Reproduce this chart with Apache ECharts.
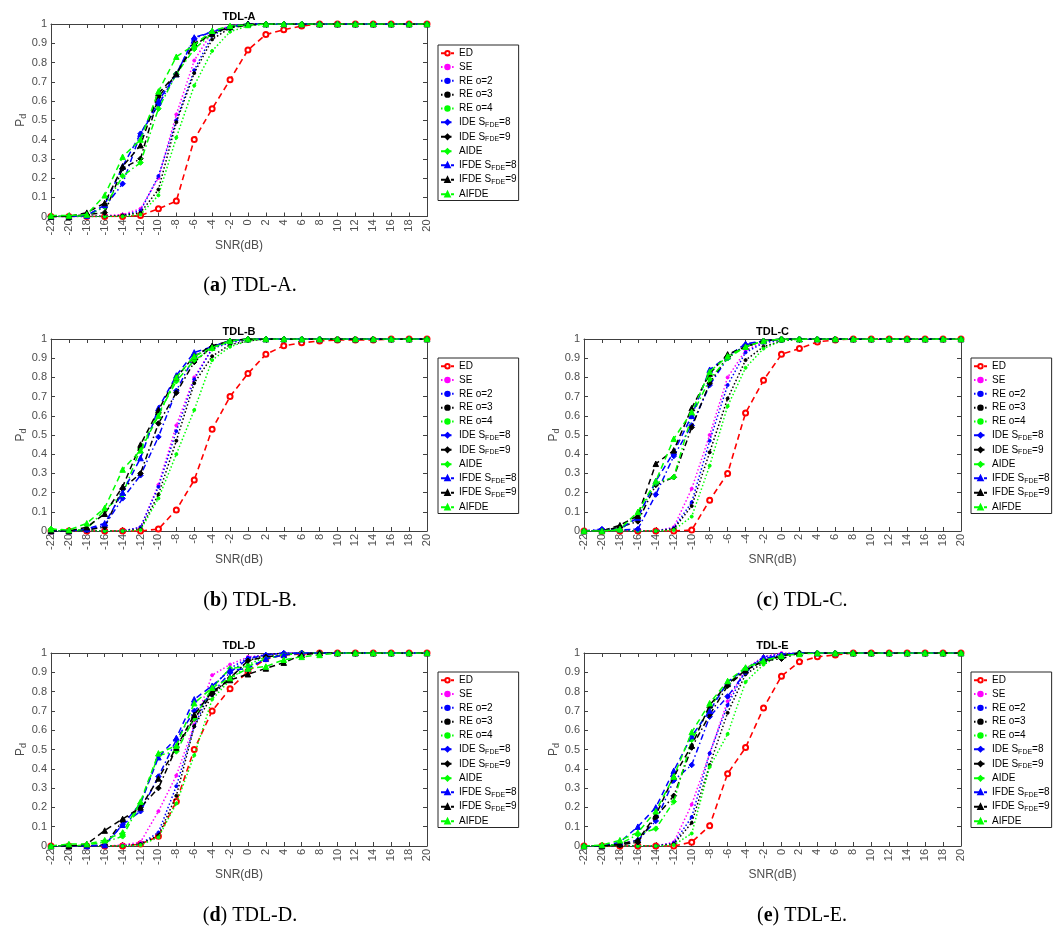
<!DOCTYPE html>
<html>
<head>
<meta charset="utf-8">
<script src="https://cdn.jsdelivr.net/npm/echarts@6/dist/echarts.min.js"></script>
<style>
html,body{margin:0;padding:0;background:#fff;}
#chart{width:1058px;height:927px;}
</style>
</head>
<body>
<div id="chart"></div>
<script>
// ---------- data ----------
const snr = [-22,-20,-18,-16,-14,-12,-10,-8,-6,-4,-2,0,2,4,6,8,10,12,14,16,18,20];
const seriesNames = ['ED','SE','RE o=2','RE o=3','RE o=4','IDE S_FDE=8','IDE S_FDE=9','AIDE','IFDE S_FDE=8','IFDE S_FDE=9','AIFDE'];
const panelTitles = ['TDL-A','TDL-B','TDL-C','TDL-D','TDL-E'];
const captionLetters = ['a','b','c','d','e'];
const yTickLabels = ['0','0.1','0.2','0.3','0.4','0.5','0.6','0.7','0.8','0.9','1'];

// TDL-A
const tdlA_ED    = [0,0,0,0,0,0.005,0.04,0.08,0.40,0.56,0.71,0.865,0.945,0.97,0.99,1,1,1,1,1,1,1];
const tdlA_SE    = [0,0,0,0.005,0.01,0.04,0.20,0.53,0.81,0.96,0.99,1,1,1,1,1,1,1,1,1,1,1];
const tdlA_RE2   = [0,0,0,0,0.005,0.03,0.21,0.50,0.76,0.94,0.99,1,1,1,1,1,1,1,1,1,1,1];
const tdlA_RE3   = [0,0,0,0,0.005,0.02,0.14,0.49,0.745,0.92,0.98,1,1,1,1,1,1,1,1,1,1,1];
const tdlA_RE4   = [0,0,0,0,0,0.01,0.11,0.41,0.68,0.86,0.96,0.99,1,1,1,1,1,1,1,1,1,1];
const tdlA_IDE8  = [0,0,0.005,0.05,0.17,0.43,0.58,0.74,0.925,0.96,0.985,1,1,1,1,1,1,1,1,1,1,1];
const tdlA_IDE9  = [0,0,0.01,0.02,0.25,0.30,0.62,0.74,0.89,0.95,0.98,0.995,1,1,1,1,1,1,1,1,1,1];
const tdlA_AIDE  = [0,0,0.005,0.05,0.21,0.28,0.56,0.74,0.87,0.95,0.985,1,1,1,1,1,1,1,1,1,1,1];
const tdlA_IFDE8 = [0,0,0.005,0.06,0.26,0.43,0.60,0.74,0.93,0.96,0.985,1,1,1,1,1,1,1,1,1,1,1];
const tdlA_IFDE9 = [0,0,0.02,0.07,0.26,0.37,0.64,0.74,0.90,0.95,0.985,1,1,1,1,1,1,1,1,1,1,1];
const tdlA_AIFDE = [0.005,0.005,0.01,0.11,0.31,0.40,0.65,0.83,0.89,0.965,0.99,0.995,1,1,1,1,1,1,1,1,1,1];

// TDL-B
const tdlB_ED    = [0,0,0,0,0,0,0.01,0.11,0.265,0.53,0.70,0.82,0.92,0.965,0.98,0.99,0.995,0.995,0.995,1,1,1];
const tdlB_SE    = [0,0,0,0,0,0.02,0.24,0.55,0.80,0.95,0.985,1,1,1,1,1,1,1,1,1,1,1];
const tdlB_RE2   = [0,0,0,0,0,0.02,0.23,0.52,0.79,0.95,0.98,1,1,1,1,1,1,1,1,1,1,1];
const tdlB_RE3   = [0,0,0,0,0,0.01,0.19,0.47,0.77,0.91,0.97,0.99,1,1,1,1,1,1,1,1,1,1];
const tdlB_RE4   = [0,0,0,0,0,0.005,0.17,0.40,0.63,0.89,0.96,0.99,1,1,1,1,1,1,1,1,1,1];
const tdlB_IDE8  = [0,0,0.005,0.03,0.17,0.29,0.49,0.73,0.91,0.96,0.99,1,1,1,1,1,1,1,1,1,1,1];
const tdlB_IDE9  = [0,0,0.005,0.02,0.22,0.30,0.56,0.72,0.88,0.96,0.99,1,1,1,1,1,1,1,1,1,1,1];
const tdlB_AIDE  = [0.01,0,0.01,0.11,0.19,0.43,0.61,0.78,0.89,0.95,0.99,1,1,1,1,1,1,1,1,1,1,1];
const tdlB_IFDE8 = [0,0,0.01,0.04,0.20,0.38,0.64,0.81,0.93,0.96,0.99,1,1,1,1,1,1,1,1,1,1,1];
const tdlB_IFDE9 = [0,0,0.02,0.09,0.23,0.45,0.63,0.80,0.91,0.965,0.99,1,1,1,1,1,1,1,1,1,1,1];
const tdlB_AIFDE = [0.01,0.005,0.04,0.12,0.32,0.42,0.60,0.80,0.91,0.955,0.99,1,1,1,1,1,1,1,1,1,1,1];

// TDL-C
const tdlC_ED    = [0,0,0,0,0,0,0.005,0.16,0.30,0.615,0.785,0.92,0.95,0.985,0.995,1,1,1,1,1,1,1];
const tdlC_SE    = [0,0,0,0,0,0.02,0.22,0.50,0.80,0.94,0.985,1,1,1,1,1,1,1,1,1,1,1];
const tdlC_RE2   = [0,0,0,0,0,0.015,0.15,0.47,0.76,0.93,0.98,0.995,1,1,1,1,1,1,1,1,1,1];
const tdlC_RE3   = [0,0,0,0,0,0.01,0.13,0.41,0.69,0.89,0.96,0.99,1,1,1,1,1,1,1,1,1,1];
const tdlC_RE4   = [0,0,0,0,0,0.005,0.075,0.34,0.65,0.85,0.95,0.99,1,1,1,1,1,1,1,1,1,1];
const tdlC_IDE8  = [0,0.01,0.005,0.01,0.19,0.39,0.55,0.76,0.90,0.97,0.99,1,1,1,1,1,1,1,1,1,1,1];
const tdlC_IDE9  = [0,0,0.02,0.05,0.24,0.28,0.54,0.77,0.91,0.96,0.99,1,1,1,1,1,1,1,1,1,1,1];
const tdlC_AIDE  = [0,0,0.005,0.08,0.25,0.28,0.60,0.79,0.90,0.96,0.99,1,1,1,1,1,1,1,1,1,1,1];
const tdlC_IFDE8 = [0,0.005,0.01,0.07,0.26,0.41,0.60,0.84,0.91,0.975,0.99,1,1,1,1,1,1,1,1,1,1,1];
const tdlC_IFDE9 = [0,0,0.03,0.08,0.35,0.42,0.64,0.82,0.92,0.96,0.99,1,1,1,1,1,1,1,1,1,1,1];
const tdlC_AIFDE = [0,0,0.01,0.10,0.26,0.48,0.62,0.83,0.91,0.96,0.99,1,1,1,1,1,1,1,1,1,1,1];

// TDL-D
const tdlD_ED    = [0,0,0,0,0,0.01,0.05,0.23,0.50,0.70,0.815,0.905,0.97,0.99,0.995,1,1,1,1,1,1,1];
const tdlD_SE    = [0,0,0,0,0.005,0.02,0.18,0.365,0.63,0.885,0.94,0.98,0.99,1,1,1,1,1,1,1,1,1];
const tdlD_RE2   = [0,0,0,0,0,0.01,0.07,0.31,0.62,0.82,0.92,0.975,0.99,1,1,1,1,1,1,1,1,1];
const tdlD_RE3   = [0,0,0,0,0,0.01,0.055,0.26,0.62,0.78,0.87,0.96,0.99,1,1,1,1,1,1,1,1,1];
const tdlD_RE4   = [0,0,0,0,0,0.005,0.045,0.22,0.47,0.76,0.86,0.94,0.98,0.99,1,1,1,1,1,1,1,1];
const tdlD_IDE8  = [0,0,0,0.005,0.11,0.18,0.36,0.55,0.70,0.79,0.90,0.97,0.99,1,1,1,1,1,1,1,1,1];
const tdlD_IDE9  = [0,0,0,0.005,0.13,0.20,0.30,0.51,0.66,0.79,0.87,0.96,0.98,0.99,1,1,1,1,1,1,1,1];
const tdlD_AIDE  = [0,0,0.005,0.02,0.05,0.22,0.47,0.49,0.66,0.82,0.92,0.93,0.97,0.99,1,1,1,1,1,1,1,1];
const tdlD_IFDE8 = [0,0,0,0.005,0.11,0.22,0.46,0.56,0.76,0.83,0.91,0.92,0.97,0.99,1,1,1,1,1,1,1,1];
const tdlD_IFDE9 = [0,0,0.01,0.08,0.14,0.20,0.35,0.51,0.68,0.80,0.86,0.89,0.92,0.95,0.99,1,1,1,1,1,1,1];
const tdlD_AIFDE = [0,0.01,0.01,0.03,0.07,0.23,0.48,0.52,0.74,0.82,0.87,0.92,0.93,0.965,0.98,0.99,1,1,1,1,1,1];

// TDL-E
const tdlE_ED    = [0,0,0,0,0,0,0.02,0.105,0.375,0.51,0.715,0.88,0.955,0.98,0.99,1,1,1,1,1,1,1];
const tdlE_SE    = [0,0,0,0,0,0.02,0.215,0.48,0.75,0.92,0.98,1,1,1,1,1,1,1,1,1,1,1];
const tdlE_RE2   = [0,0,0,0,0,0.015,0.15,0.48,0.73,0.91,0.98,0.995,1,1,1,1,1,1,1,1,1,1];
const tdlE_RE3   = [0,0,0,0,0,0.01,0.12,0.42,0.69,0.89,0.95,0.99,1,1,1,1,1,1,1,1,1,1];
const tdlE_RE4   = [0,0,0,0,0,0.005,0.065,0.41,0.58,0.85,0.94,0.99,1,1,1,1,1,1,1,1,1,1];
const tdlE_IDE8  = [0,0,0.01,0.03,0.13,0.34,0.42,0.67,0.775,0.90,0.97,0.99,1,1,1,1,1,1,1,1,1,1];
const tdlE_IDE9  = [0,0,0.005,0.02,0.15,0.26,0.51,0.68,0.83,0.91,0.96,0.97,1,1,1,1,1,1,1,1,1,1];
const tdlE_AIDE  = [0,0,0.01,0.06,0.09,0.23,0.55,0.72,0.84,0.92,0.96,0.985,1,1,1,1,1,1,1,1,1,1];
const tdlE_IFDE8 = [0,0,0.02,0.10,0.20,0.39,0.57,0.70,0.85,0.92,0.97,0.99,1,1,1,1,1,1,1,1,1,1];
const tdlE_IFDE9 = [0,0,0.01,0.03,0.16,0.36,0.52,0.73,0.84,0.91,0.96,0.985,1,1,1,1,1,1,1,1,1,1];
const tdlE_AIFDE = [0,0.005,0.03,0.07,0.18,0.36,0.59,0.74,0.855,0.925,0.96,0.985,0.995,1,1,1,1,1,1,1,1,1];

const panelData = [
  [tdlA_ED,tdlA_SE,tdlA_RE2,tdlA_RE3,tdlA_RE4,tdlA_IDE8,tdlA_IDE9,tdlA_AIDE,tdlA_IFDE8,tdlA_IFDE9,tdlA_AIFDE],
  [tdlB_ED,tdlB_SE,tdlB_RE2,tdlB_RE3,tdlB_RE4,tdlB_IDE8,tdlB_IDE9,tdlB_AIDE,tdlB_IFDE8,tdlB_IFDE9,tdlB_AIFDE],
  [tdlC_ED,tdlC_SE,tdlC_RE2,tdlC_RE3,tdlC_RE4,tdlC_IDE8,tdlC_IDE9,tdlC_AIDE,tdlC_IFDE8,tdlC_IFDE9,tdlC_AIFDE],
  [tdlD_ED,tdlD_SE,tdlD_RE2,tdlD_RE3,tdlD_RE4,tdlD_IDE8,tdlD_IDE9,tdlD_AIDE,tdlD_IFDE8,tdlD_IFDE9,tdlD_AIFDE],
  [tdlE_ED,tdlE_SE,tdlE_RE2,tdlE_RE3,tdlE_RE4,tdlE_IDE8,tdlE_IDE9,tdlE_AIDE,tdlE_IFDE8,tdlE_IFDE9,tdlE_AIFDE]
];

// ---------- styles & layout ----------
const RED='#ff0000', MAG='#ff00ff', BLU='#0000ff', BLK='#000000', GRN='#00ff00';
const DASH=[6,4], DOT=[1.5,2.2], DASHDOT=[6,3,1.5,3];
const styles = [
  {c:RED, dash:DASH, sym:'emptyCircle', size:5, w:1.6},
  {c:MAG, dash:DOT, sym:'circle', size:3, w:1.5},
  {c:BLU, dash:DOT, sym:'circle', size:3, w:1.5},
  {c:BLK, dash:DOT, sym:'circle', size:3, w:1.5},
  {c:GRN, dash:DOT, sym:'circle', size:3, w:1.5},
  {c:BLU, dash:DASHDOT, sym:'diamond', size:5.5, w:1.5},
  {c:BLK, dash:DASHDOT, sym:'diamond', size:5.5, w:1.5},
  {c:GRN, dash:DASHDOT, sym:'diamond', size:5.5, w:1.5},
  {c:BLU, dash:DASH, sym:'triangle', size:5.5, w:1.5},
  {c:BLK, dash:DASH, sym:'triangle', size:5.5, w:1.5},
  {c:GRN, dash:DASH, sym:'triangle', size:5.5, w:1.5}
];
const grids = [
  {left:51, top:24, width:376, height:192.5},
  {left:51, top:339, width:376, height:192},
  {left:584, top:339, width:377, height:192},
  {left:51, top:653, width:376, height:193},
  {left:584, top:653, width:377, height:193}
];
const legendPos = [
  {left:438, top:45}, {left:438, top:358}, {left:971, top:358},
  {left:438, top:672}, {left:971, top:672}
];
const captionPos = [
  {x:250, y:276}, {x:250, y:591}, {x:802, y:591}, {x:250, y:906}, {x:802, y:906}
];

const AX='#404040', FONT='"Liberation Sans", Arial, sans-serif';

const option = {animation:false, backgroundColor:'#fff', grid:[], xAxis:[], yAxis:[], series:[], legend:[], title:[]};

grids.forEach((g,i)=>{
  option.grid.push({left:g.left, top:g.top, width:g.width, height:g.height, show:false});
  const xBase = {type:'value', gridIndex:i, min:-22, max:20, interval:2,
    axisLine:{show:true, onZero:false, lineStyle:{color:AX, width:1}},
    axisTick:{show:true, inside:true, length:4, lineStyle:{color:AX}},
    splitLine:{show:false}};
  option.xAxis.push(Object.assign({}, xBase, {position:'bottom',
    axisLabel:{show:true, rotate:90, margin:3, fontSize:11, color:'#4d4d4d', fontFamily:FONT},
    name:'SNR(dB)', nameLocation:'middle', nameGap:21,
    nameTextStyle:{fontSize:12, color:'#4d4d4d', fontFamily:FONT}}));
  option.xAxis.push(Object.assign({}, xBase, {position:'top', axisLabel:{show:false}}));
  const yBase = {type:'value', gridIndex:i, min:0, max:1, interval:0.1,
    axisLine:{show:true, onZero:false, lineStyle:{color:AX, width:1}},
    axisTick:{show:true, inside:true, length:4, lineStyle:{color:AX}},
    splitLine:{show:false}};
  option.yAxis.push(Object.assign({}, yBase, {position:'left',
    axisLabel:{show:true, margin:4, fontSize:11, color:'#4d4d4d', fontFamily:FONT,
      formatter:v=>yTickLabels[Math.round(v*10)]},
    name:'{p|P}{s|d}', nameLocation:'middle', nameRotate:90, nameGap:19,
    nameTextStyle:{color:'#4d4d4d', fontFamily:FONT, rich:{
      p:{fontSize:12, color:'#4d4d4d', fontFamily:FONT},
      s:{fontSize:9, color:'#4d4d4d', fontFamily:FONT, padding:[6,0,0,0]}}}}));
  option.yAxis.push(Object.assign({}, yBase, {position:'right', axisLabel:{show:false}}));

  panelData[i].forEach((vals,k)=>{
    const s = styles[k];
    option.series.push({
      type:'line', name:seriesNames[k], xAxisIndex:2*i, yAxisIndex:2*i,
      data:snr.map((x,j)=>[x, vals[j]]),
      symbol:s.sym, symbolSize:s.size, showSymbol:true,
      lineStyle:{color:s.c, width:s.w, type:s.dash},
      itemStyle:{color:s.c, borderColor:s.c, borderWidth:1},
      z: 2 + k, clip:true
    });
  });

  option.legend.push({
    orient:'vertical', left:legendPos[i].left, top:legendPos[i].top,
    data:seriesNames, itemWidth:13, itemHeight:5.5, itemGap:3.3,
    padding:[3,2,1,2], borderColor:'#262626', borderWidth:1, backgroundColor:'#fff',
    selectedMode:false,
    textStyle:{fontSize:10, color:'#000', fontFamily:FONT, lineHeight:10.5,
      rich:{sub:{fontSize:7, fontFamily:FONT, color:'#000', padding:[5,0,0,0]}}},
    formatter: n => n.replace('S_FDE', 'S{sub|FDE}')
  });

  option.title.push({
    text:panelTitles[i], left:g.left + g.width/2, top:g.top - 13, textAlign:'center',
    textStyle:{fontSize:11, fontWeight:'bold', color:'#000', fontFamily:FONT}, padding:0
  });
  option.title.push({
    text:'({b|' + captionLetters[i] + '}) ' + panelTitles[i] + '.',
    left:captionPos[i].x, top:captionPos[i].y, textAlign:'center', padding:0,
    textStyle:{fontSize:20, fontWeight:'normal', color:'#000', fontFamily:'"Liberation Serif", "DejaVu Serif", serif',
      rich:{b:{fontSize:20, fontWeight:'bold', color:'#000', fontFamily:'"Liberation Serif", "DejaVu Serif", serif'}}}
  });
});

const chart = echarts.init(document.getElementById('chart'), null, {renderer:'canvas'});
chart.setOption(option);
</script>
</body>
</html>
